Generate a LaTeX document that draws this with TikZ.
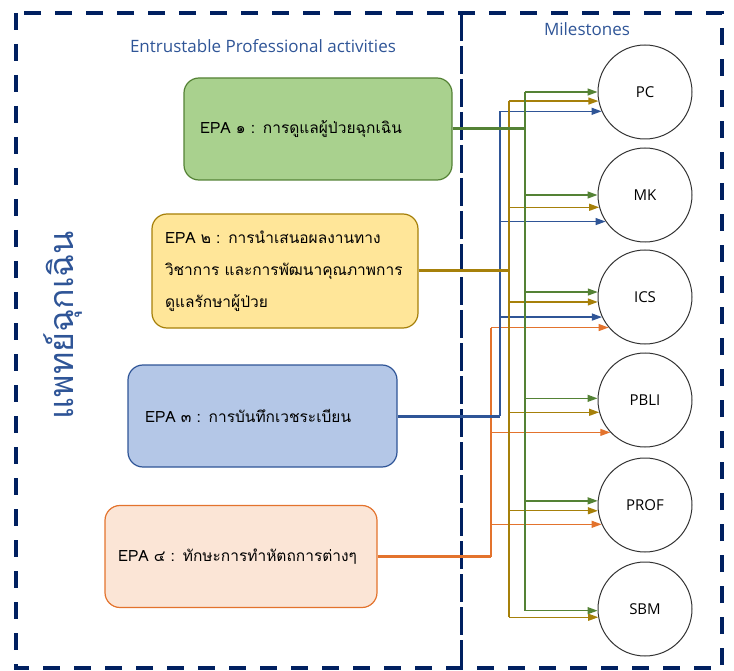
\documentclass[tikz,border=0pt]{standalone}
\usepackage{fontspec}
\setmainfont{Open Sans}
\newfontfamily\thaifont[Script=Thai]{Loma}
\usetikzlibrary{arrows.meta}

\definecolor{framenavy}{RGB}{0,32,96}
\definecolor{titleblue}{RGB}{47,85,151}
\definecolor{epagreen}{RGB}{169,209,142}
\definecolor{linegreen}{RGB}{84,130,53}
\definecolor{epayellow}{RGB}{255,230,153}
\definecolor{lineyellow}{RGB}{166,128,10}
\definecolor{epablue}{RGB}{180,199,231}
\definecolor{lineblue}{RGB}{47,85,151}
\definecolor{epaorange}{RGB}{251,229,214}
\definecolor{lineorange}{RGB}{227,115,45}

\tikzset{
  epa/.style={draw, rounded corners=15pt, line width=1.2pt, align=left, minimum height=102pt, font=\thaifont\fontsize{15.5}{32}\selectfont},
  milestone/.style={draw=black!80, circle, minimum size=94pt, line width=1pt, font=\fontsize{15}{17}\selectfont},
  heading/.style={text=titleblue, font=\fontsize{17}{20}\selectfont},
  feeder/.style={line width=3pt},
  trunk/.style={line width=1.6pt},
  branch/.style={line width=1.3pt, -{Triangle[length=10pt,width=7pt]}},
}

\begin{document}
\begin{tikzpicture}[x=1pt, y=-1pt]
		%%%%% START %%%%%
		\useasboundingbox (0,0) rectangle (734,671);
		
		\draw[framenavy, line width=3.5pt, dash pattern=on 17pt off 14pt] (16,13) rectangle (722,668);
		\draw[framenavy, line width=3pt, dash pattern=on 28pt off 5pt] (461,13) -- (461,668);
		
		\node[heading] (epatitle) at (263,46) {Entrustable Professional activities};
		\node[heading] (mstitle) at (587,29) {Milestones};
		\node[rotate=90, text=titleblue, font=\thaifont\fontsize{34}{40}\selectfont] (dept) at (63,325) {แพทย์ฉุกเฉิน};
		
		\node[epa, fill=epagreen, draw=linegreen, text width=236pt, inner xsep=16pt] (epa1) at (318,129) {EPA ๑ : การดูแลผู้ป่วยฉุกเฉิน};
		\node[epa, fill=epayellow, draw=lineyellow, text width=240pt, inner xsep=13pt, minimum height=114pt] (epa2) at (285,271) {EPA ๒ : การนำเสนอผลงานทาง\\วิชาการ และการพัฒนาคุณภาพการ\\ดูแลรักษาผู้ป่วย};
		\node[epa, fill=epablue, draw=lineblue, text width=235pt, inner xsep=17pt] (epa3) at (262.5,416) {EPA ๓ : การบันทึกเวชระเบียน};
		\node[epa, fill=epaorange, draw=lineorange, text width=246pt, inner xsep=13pt] (epa4) at (241,556.5) {EPA ๔ : ทักษะการทำหัตถการต่างๆ};
		
		\node[milestone] (pc) at (645,92) {PC};
		\node[milestone] (mk) at (645,195) {MK};
		\node[milestone] (ics) at (645,297) {ICS};
		\node[milestone] (pbli) at (645,400) {PBLI};
		\node[milestone] (prof) at (645,505) {PROF};
		\node[milestone] (sbm) at (645,609) {SBM};
		
		\coordinate (gx) at (525,0);
		\coordinate (yx) at (509,0);
		\coordinate (bx) at (500,0);
		\coordinate (ox) at (491,0);
		
		% orange
		\draw[feeder, lineorange] (epa4.east) -- (epa4.east -| ox);
		\draw[trunk, lineorange] (epa4.east -| ox) -- (ics.220 -| ox);
		\draw[branch, lineorange] (ics.220 -| ox) -- (ics.220);
		\draw[branch, lineorange] (pbli.223 -| ox) -- (pbli.223);
		\draw[branch, lineorange] (prof.204 -| ox) -- (prof.204);
		
		% blue
		\draw[feeder, lineblue] (epa3.east) -- (epa3.east -| bx);
		\draw[trunk, lineblue] (epa3.east -| bx) -- (pc.204 -| bx);
		\draw[branch, lineblue] (pc.204 -| bx) -- (pc.204);
		\draw[branch, lineblue] (mk.214 -| bx) -- (mk.214);
		\draw[branch, lineblue] (ics.205 -| bx) -- (ics.205);
		
		% yellow
		\draw[feeder, lineyellow] (epa2.east) -- (epa2.east -| yx);
		\draw[trunk, lineyellow] (pc.191 -| yx) -- (sbm.190 -| yx);
		\draw[branch, lineyellow] (pc.191 -| yx) -- (pc.191);
		\draw[branch, lineyellow] (mk.195 -| yx) -- (mk.195);
		\draw[branch, lineyellow] (ics.186 -| yx) -- (ics.186);
		\draw[branch, lineyellow] (pbli.195 -| yx) -- (pbli.195);
		\draw[branch, lineyellow] (prof.187 -| yx) -- (prof.187);
		\draw[branch, lineyellow] (sbm.190 -| yx) -- (sbm.190);
		
		% green
		\draw[feeder, linegreen] (epa1.east) -- (epa1.east -| gx);
		\draw[trunk, linegreen] (pc.180 -| gx) -- (sbm.182 -| gx);
		\draw[branch, linegreen] (pc.180 -| gx) -- (pc.180);
		\draw[branch, linegreen] (mk.180 -| gx) -- (mk.180);
		\draw[branch, linegreen] (ics.174 -| gx) -- (ics.174);
		\draw[branch, linegreen] (pbli.178 -| gx) -- (pbli.178);
		\draw[branch, linegreen] (prof.175 -| gx) -- (prof.175);
		\draw[branch, linegreen] (sbm.182 -| gx) -- (sbm.182);
		
		%%%%% END %%%%%
	\end{tikzpicture}
\end{document}
